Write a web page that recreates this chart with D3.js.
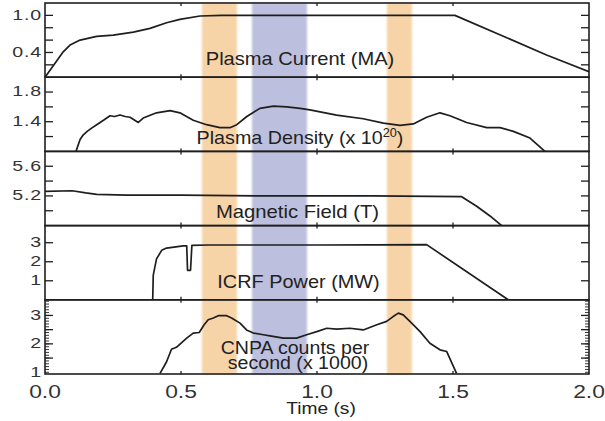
<!DOCTYPE html>
<html><head><meta charset="utf-8">
<script src="https://cdn.jsdelivr.net/npm/d3@7"></script>
<style>html,body{margin:0;padding:0;background:#fff}svg{display:block}</style>
</head><body><svg id="chart" width="605" height="421"></svg>
<script>
// Time axis
const timeDomain = [0, 2];
const timeTicks = [0, 0.5, 1.0, 1.5, 2.0];
const timeTickLabels = ["0.0", "0.5", "1.0", "1.5", "2.0"];

// Shaded time windows (s)
const orangeWindows = [[0.577, 0.706], [1.257, 1.349]];
const blueWindows = [[0.761, 0.963]];

// Traces: [time (s), value]
const plasmaCurrent = [[0,0],[0.031,0.19],[0.067,0.41],[0.092,0.52],[0.129,0.60],[0.19,0.66],[0.251,0.68],[0.325,0.73],[0.386,0.79],[0.447,0.88],[0.496,0.935],[0.57,0.99],[0.65,1.0],[1.0,1.0],[1.507,1.0],[1.844,0.36],[2.0,0.09]];

const plasmaDensity = [[0.114,1.0],[0.129,1.16],[0.14,1.22],[0.155,1.27],[0.17,1.31],[0.19,1.36],[0.215,1.42],[0.239,1.48],[0.255,1.47],[0.276,1.49],[0.295,1.47],[0.3125,1.46],[0.343,1.39],[0.361,1.45],[0.41,1.52],[0.46,1.55],[0.496,1.52],[0.545,1.42],[0.594,1.36],[0.643,1.32],[0.68,1.32],[0.705,1.36],[0.742,1.47],[0.79,1.58],[0.84,1.61],[0.889,1.60],[0.9375,1.58],[0.974,1.56],[1.072,1.49],[1.17,1.44],[1.244,1.38],[1.305,1.35],[1.354,1.37],[1.403,1.46],[1.452,1.52],[1.489,1.48],[1.55,1.39],[1.624,1.32],[1.673,1.32],[1.722,1.27],[1.783,1.18],[1.838,1.0]];

const magneticField = [[0,5.26],[0.1,5.27],[0.15,5.24],[0.19,5.22],[0.3,5.21],[0.5,5.21],[0.8,5.20],[1.2,5.20],[1.532,5.19],[1.587,5.06],[1.636,4.93],[1.679,4.8]];

const icrfPower = [[0.396,0],[0.398,1.3],[0.41,2.15],[0.429,2.6],[0.447,2.72],[0.508,2.83],[0.521,2.83],[0.524,1.55],[0.535,1.55],[0.54,2.86],[0.6,2.88],[1.0,2.88],[1.403,2.9],[1.703,0]];

const cnpaCounts = [[0.423,0.96],[0.447,1.37],[0.465,1.81],[0.483,1.88],[0.521,2.20],[0.545,2.38],[0.567,2.40],[0.585,2.67],[0.60,2.85],[0.619,2.91],[0.637,2.99],[0.668,2.99],[0.686,2.91],[0.717,2.73],[0.741,2.49],[0.766,2.38],[0.803,2.32],[0.827,2.28],[0.876,2.20],[0.925,2.20],[0.962,2.32],[0.999,2.43],[1.036,2.55],[1.072,2.52],[1.121,2.55],[1.17,2.49],[1.22,2.67],[1.256,2.79],[1.28,2.96],[1.299,3.08],[1.317,3.02],[1.348,2.73],[1.379,2.43],[1.415,2.02],[1.452,1.79],[1.477,1.73],[1.513,0.96]];

// Per-panel y domains, ticks and labels
const panelDomains = [[0, 1.2], [1.0, 2.0], [4.8, 5.8], [0, 3.9], [0.94, 3.55]];
const panelTicks = [[0.2,0.4,0.6,0.8,1.0],[1.2,1.4,1.6,1.8],[5.0,5.2,5.4,5.6],[1,2,3],[1.5,2,2.5,3]];
const panelLabelValues = [[1.0,0.4],[1.8,1.4],[5.6,5.2],[3,2,1],[3,2,1]];
const panelLabelTexts = [["1.0","0.4"],["1.8","1.4"],["5.6","5.2"],["3","2","1"],["3","2","1"]];
const cnpaMinorTicks = d3.range(10, 36).map(d => d / 10);

const series = [plasmaCurrent, plasmaDensity, magneticField, icrfPower, cnpaCounts];

const plotLeft = 45, plotRight = 589, plotTop = 3, plotBottom = 374;
const panelH = (plotBottom - plotTop) / 5;
const ink = "#1e1e1e";
const font = "'Liberation Sans', Arial, Helvetica, sans-serif";

const svg = d3.select("#chart");
const defs = svg.append("defs");
defs.append("filter").attr("id", "soft").attr("x", "-10%").attr("width", "120%")
  .append("feGaussianBlur").attr("stdDeviation", 1.1);

const x = d3.scaleLinear().domain(timeDomain).range([plotLeft, plotRight]);

// Shaded windows spanning all panels
const bands = svg.append("g").attr("filter", "url(#soft)");
bands.selectAll("rect.o").data(orangeWindows).join("rect")
  .attr("x", d => x(d[0])).attr("width", d => x(d[1]) - x(d[0]))
  .attr("y", plotTop).attr("height", plotBottom - plotTop).attr("fill", "#f7d3a8");
bands.selectAll("rect.b").data(blueWindows).join("rect")
  .attr("x", d => x(d[0])).attr("width", d => x(d[1]) - x(d[0]))
  .attr("y", plotTop).attr("height", plotBottom - plotTop).attr("fill", "#bcbfde");

const yScales = panelDomains.map((dom, i) =>
  d3.scaleLinear().domain(dom).range([plotTop + (i + 1) * panelH, plotTop + i * panelH]));

// Traces
series.forEach((data, i) => {
  const y = yScales[i];
  const clipId = "clip" + i;
  defs.append("clipPath").attr("id", clipId).append("rect")
    .attr("x", plotLeft).attr("y", plotTop + i * panelH).attr("width", plotRight - plotLeft).attr("height", panelH);
  svg.append("path").datum(data)
    .attr("clip-path", `url(#${clipId})`)
    .attr("d", d3.line().x(d => x(d[0])).y(d => y(d[1])))
    .attr("fill", "none").attr("stroke", ink).attr("stroke-width", 1.7)
    .attr("stroke-linejoin", "round");
});

// Axes: inward ticks on both sides, and tick labels on the left
yScales.forEach((y, i) => {
  const g = svg.append("g");
  const ticks = panelTicks[i];
  const tickLen = 8;
  g.selectAll("line.l").data(ticks).join("line")
    .attr("x1", plotLeft).attr("x2", plotLeft + tickLen).attr("y1", d => y(d)).attr("y2", d => y(d))
    .attr("stroke", ink).attr("stroke-width", 1.3);
  g.selectAll("line.r").data(ticks).join("line")
    .attr("x1", plotRight).attr("x2", plotRight - tickLen).attr("y1", d => y(d)).attr("y2", d => y(d))
    .attr("stroke", ink).attr("stroke-width", 1.3);
  if (i === 4) {
    g.selectAll("line.ml").data(cnpaMinorTicks).join("line")
      .attr("x1", plotLeft).attr("x2", plotLeft + 4).attr("y1", d => y(d)).attr("y2", d => y(d))
      .attr("stroke", ink).attr("stroke-width", 0.9);
    g.selectAll("line.mr").data(cnpaMinorTicks).join("line")
      .attr("x1", plotRight).attr("x2", plotRight - 4).attr("y1", d => y(d)).attr("y2", d => y(d))
      .attr("stroke", ink).attr("stroke-width", 0.9);
  }
  // small time ticks on the panel edges
  const yTop = plotTop + i * panelH, yBot = plotTop + (i + 1) * panelH;
  g.selectAll("line.tt").data(timeTicks.slice(1, -1)).join("line")
    .attr("x1", d => x(d)).attr("x2", d => x(d)).attr("y1", yTop).attr("y2", yTop + 3)
    .attr("stroke", ink).attr("stroke-width", 1.3);
  g.selectAll("line.tb").data(timeTicks.slice(1, -1)).join("line")
    .attr("x1", d => x(d)).attr("x2", d => x(d)).attr("y1", yBot).attr("y2", yBot - 3)
    .attr("stroke", ink).attr("stroke-width", 1.3);
  // frame
  g.append("rect").attr("x", plotLeft).attr("y", yTop).attr("width", plotRight - plotLeft).attr("height", panelH)
    .attr("fill", "none").attr("stroke", ink).attr("stroke-width", 1.6);
  // labels
  const vals = panelLabelValues[i], texts = panelLabelTexts[i];
  g.selectAll("text").data(vals).join("text")
    .attr("transform", d => `translate(${plotLeft - 3},${y(d)}) scale(1.35,1)`)
    .attr("dy", "0.3em").attr("text-anchor", "end")
    .attr("font-family", font).attr("font-size", 14.5).attr("letter-spacing", 0.6)
    .attr("fill", "#333").text((d, j) => texts[j]);
});

// Time tick labels
svg.append("g").selectAll("text").data(timeTicks).join("text")
  .attr("transform", d => `translate(${x(d)},397.5) scale(1.2,1)`)
  .attr("text-anchor", "middle").attr("font-family", font).attr("font-size", 19)
  .attr("fill", "#333").text((d, i) => timeTickLabels[i]);

svg.append("text")
  .attr("transform", "translate(321,414) scale(1.2,1)")
  .attr("text-anchor", "middle").attr("font-family", font).attr("font-size", 16)
  .attr("fill", "#222").text("Time (s)");

// Panel titles
const titleStyle = sel => sel.attr("text-anchor", "middle").attr("font-family", font)
  .attr("font-size", 18.6).attr("fill", "#222");

svg.append("text").attr("transform", "translate(300,65) scale(1.08,1)").call(titleStyle)
  .text("Plasma Current (MA)");
const dens = svg.append("text").attr("transform", "translate(300,144) scale(1.06,1)").call(titleStyle);
dens.append("tspan").text("Plasma Density (x 10");
dens.append("tspan").attr("font-size", 12).attr("dy", -7).text("20");
dens.append("tspan").attr("dy", 7).text(")");
svg.append("text").attr("transform", "translate(297.5,218) scale(1.09,1)").call(titleStyle)
  .text("Magnetic Field (T)");
svg.append("text").attr("transform", "translate(298.5,288) scale(1.07,1)").call(titleStyle)
  .text("ICRF Power (MW)");
svg.append("text").attr("transform", "translate(295,354) scale(1.12,1)").call(titleStyle)
  .attr("font-size", 17.5).text("CNPA counts per");
svg.append("text").attr("transform", "translate(298,369) scale(1.12,1)").call(titleStyle)
  .attr("font-size", 17.5).text("second (x 1000)");
</script>
</body></html>
